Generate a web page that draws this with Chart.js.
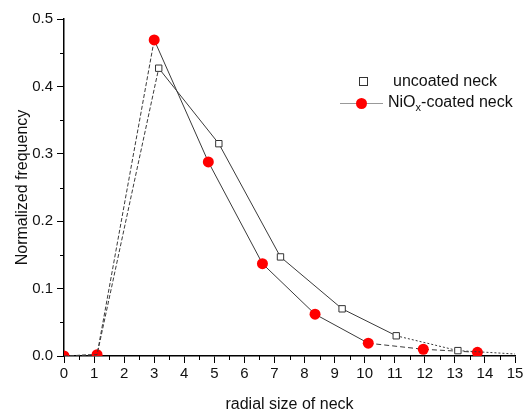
<!DOCTYPE html>
<html>
<head>
<meta charset="utf-8">
<script src="https://cdn.jsdelivr.net/npm/chart.js@4/dist/chart.umd.min.js"></script>
<style>
  body { margin: 0; background: #fff; }
  #wrap { position: relative; width: 531px; height: 414px; }
  #legend { position: absolute; left: 0; top: 0; font-family: "Liberation Sans", Arial, sans-serif; font-size: 16px; color: #111; }
  #legend .row { position: absolute; white-space: nowrap; }
  .sq { position: absolute; width: 7px; height: 7px; border: 1px solid #333; background: #fff; }
  .ln { position: absolute; height: 1px; background: #999; }
  .dot { position: absolute; width: 11px; height: 11px; border-radius: 50%; background: #f00; }
  sub { font-size: 11px; vertical-align: -4px; }
</style>
</head>
<body>
<div id="wrap">
  <canvas id="neckChart" width="531" height="414"></canvas>
  <div id="legend">
    <div class="sq" style="left:359px; top:77px;"></div>
    <div class="row" style="left:393px; top:72px;">uncoated neck</div>
    <div class="ln" style="left:340px; top:103px; width:43px;"></div>
    <div class="dot" style="left:356px; top:98px;"></div>
    <div class="row" style="left:388px; top:93px;">NiO<sub>x</sub>-coated neck</div>
  </div>
</div>
<script>
const uncoatedX = [0, 1.1, 3.15, 5.15, 7.2, 9.25, 11.05, 13.1, 15];
const uncoatedY = [0, 0.002, 0.427, 0.315, 0.147, 0.070, 0.030, 0.008, 0.003];
const coatedX = [0, 1.1, 3.0, 4.8, 6.6, 8.35, 10.12, 11.95, 13.75];
const coatedY = [0, 0.002, 0.469, 0.288, 0.137, 0.062, 0.019, 0.010, 0.0055];
const xTicks = [0, 1, 2, 3, 4, 5, 6, 7, 8, 9, 10, 11, 12, 13, 14, 15];
const yTicks = [0, 0.1, 0.2, 0.3, 0.4, 0.5];

const toPoints = (xs, ys) => xs.map((x, i) => ({ x: x, y: ys[i] }));

// minor ticks between the labelled ones
const minorTicks = {
  id: "minorTicks",
  afterDraw(chart) {
    const ctx = chart.ctx;
    const xs = chart.scales.x;
    const ys = chart.scales.y;
    ctx.save();
    ctx.strokeStyle = "#000";
    ctx.lineWidth = 1;
    ctx.beginPath();
    for (let v = 0.5; v < 15; v += 1) {
      const px = Math.round(xs.getPixelForValue(v)) + 0.5;
      ctx.moveTo(px, xs.top);
      ctx.lineTo(px, xs.top + 4);
    }
    for (let v = 0.05; v < 0.5; v += 0.1) {
      const py = Math.round(ys.getPixelForValue(v)) + 0.5;
      ctx.moveTo(ys.right, py);
      ctx.lineTo(ys.right - 4, py);
    }
    ctx.stroke();
    ctx.restore();
  },
};

const ctx = document.getElementById("neckChart").getContext("2d");
new Chart(ctx, {
  type: "line",
  data: {
    datasets: [
      {
        label: "uncoated neck",
        data: toPoints(uncoatedX, uncoatedY),
        borderColor: "#3a3a3a",
        borderWidth: 1,
        pointStyle: "rect",
        pointRadius: uncoatedX.map((x, i) => (i < 2 || i === uncoatedX.length - 1 ? 0 : 4.5)),
        pointBackgroundColor: "#fff",
        pointBorderColor: "#333",
        pointBorderWidth: 1,
        tension: 0,
        segment: {
          borderDash: (c) => (c.p0DataIndex < 2 ? [4, 2] : c.p0DataIndex >= 6 ? [2, 2] : undefined),
        },
      },
      {
        label: "NiOx-coated neck",
        data: toPoints(coatedX, coatedY),
        borderColor: "#3a3a3a",
        borderWidth: 1,
        pointStyle: "circle",
        pointRadius: 5.5,
        pointBackgroundColor: "#f00",
        pointBorderColor: "#f00",
        pointBorderWidth: 0,
        tension: 0,
        segment: {
          borderDash: (c) => (c.p0DataIndex < 2 ? [4, 2] : c.p0DataIndex >= 6 ? [5, 3] : undefined),
        },
      },
    ],
  },
  options: {
    responsive: false,
    animation: false,
    layout: { padding: { top: 19, right: 16, left: 0, bottom: 0 } },
    plugins: { legend: { display: false }, tooltip: { enabled: false } },
    scales: {
      x: {
        type: "linear",
        min: 0,
        max: 15,
        afterBuildTicks: (s) => { s.ticks = xTicks.map((v) => ({ value: v })); },
        afterFit: (s) => { s.height = 58; },
        border: { display: true, color: "#000", width: 1.5 },
        grid: { display: true, drawOnChartArea: false, drawTicks: true, tickLength: 7, tickColor: "#000", tickWidth: 1 },
        ticks: {
          color: "#111",
          padding: 2,
          maxRotation: 0,
          autoSkip: false,
          font: { family: "'Liberation Sans', Arial, sans-serif", size: 15 },
        },
        title: {
          display: true,
          text: "radial size of neck",
          color: "#111",
          padding: { top: 10, bottom: 0 },
          font: { family: "'Liberation Sans', Arial, sans-serif", size: 16 },
        },
      },
      y: {
        type: "linear",
        min: 0,
        max: 0.5,
        afterBuildTicks: (s) => { s.ticks = yTicks.map((v) => ({ value: v })); },
        afterFit: (s) => { s.width = 64; },
        border: { display: true, color: "#000", width: 1.5 },
        grid: { display: true, drawOnChartArea: false, drawTicks: true, tickLength: 7, tickColor: "#000", tickWidth: 1 },
        ticks: {
          color: "#111",
          padding: 4,
          autoSkip: false,
          callback: (v) => v.toFixed(1),
          font: { family: "'Liberation Sans', Arial, sans-serif", size: 15 },
        },
        title: {
          display: true,
          text: "Normalized frequency",
          color: "#111",
          padding: { top: 13, bottom: 0 },
          font: { family: "'Liberation Sans', Arial, sans-serif", size: 16 },
        },
      },
    },
  },
  plugins: [minorTicks],
});
</script>
</body>
</html>
